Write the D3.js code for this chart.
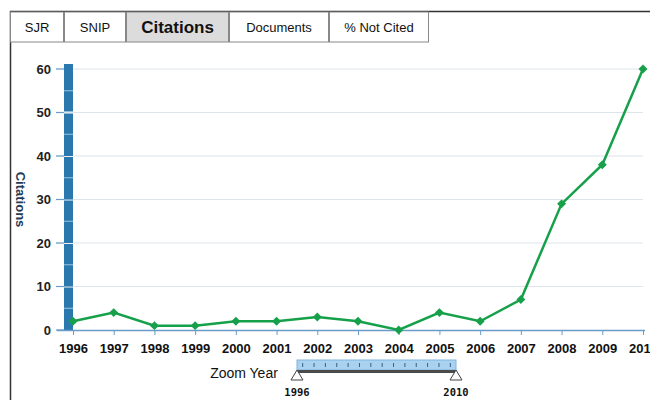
<!DOCTYPE html>
<html><head><meta charset="utf-8">
<script src="https://cdn.jsdelivr.net/npm/d3@7"></script>
<style>body{margin:0;background:#fff}svg{display:block;font-family:"Liberation Sans",Arial,sans-serif}</style>
</head><body><svg id="c" width="650" height="400"></svg>
<script>
const years = [1996,1997,1998,1999,2000,2001,2002,2003,2004,2005,2006,2007,2008,2009,2010];
const citations = [2,4,1,1,2,2,3,2,0,4,2,7,29,38,60];
const yTicks = [0,10,20,30,40,50,60];
const tabs = ["SJR","SNIP","Citations","Documents","% Not Cited"];
const activeTab = "Citations";
const zoomRange = [1996,2010];

const svg = d3.select("#c");
// frame
svg.append("line").attr("x1",10).attr("x2",650).attr("y1",11.5).attr("y2",11.5).attr("stroke","#333").attr("stroke-width",1.5);
svg.append("line").attr("x1",10.5).attr("x2",10.5).attr("y1",11).attr("y2",400).attr("stroke","#333").attr("stroke-width",1.5);

// tabs
const tabEdges = [10,64,126,229,329,429];
const tabX = d3.scaleOrdinal().domain(tabs).range(tabs.map((d,i)=>tabEdges[i]));
const tabW = d3.scaleOrdinal().domain(tabs).range(tabs.map((d,i)=>tabEdges[i+1]-tabEdges[i]));
const tg = svg.append("g").selectAll("g").data(tabs).join("g").attr("transform",d=>`translate(${tabX(d)},12)`);
tg.append("rect").attr("x",0.5).attr("y",0).attr("width",d=>tabW(d)-1).attr("height",30)
  .attr("fill",d=>d===activeTab?"#dcdcdc":"#fff").attr("stroke","#888").attr("stroke-width",1);
tg.append("text").attr("x",d=>tabW(d)/2).attr("y",d=>d===activeTab?21:19.5).attr("text-anchor","middle")
  .attr("font-size",d=>d===activeTab?17:13).attr("font-weight",d=>d===activeTab?"bold":"normal").attr("fill","#111").text(d=>d);

// scales
const x = d3.scalePoint().domain(years).range([73,643]);
const y = d3.scaleLinear().domain([0,60]).range([330,69]);

// gridlines
svg.append("g").selectAll("line").data(yTicks.filter(d=>d>0)).join("line")
  .attr("x1",57).attr("x2",643).attr("y1",d=>y(d)).attr("y2",d=>y(d)).attr("stroke","#dde4ea").attr("stroke-width",1);

// y axis
const ya = svg.append("g").attr("transform","translate(57,0)").call(d3.axisLeft(y).tickValues(yTicks).tickSize(0).tickPadding(6));
ya.select(".domain").remove();
ya.selectAll("text").attr("font-size",13).attr("font-weight","bold").attr("fill","#222").attr("font-family","Liberation Sans, Arial, sans-serif");
svg.append("g").selectAll("line").data(yTicks).join("line")
  .attr("x1",56).attr("x2",64).attr("y1",d=>y(d)).attr("y2",d=>y(d)).attr("stroke","#6a9cc8").attr("stroke-width",1.2);

// y zoom bar (segmented)
const segs = d3.pairs(yTicks);
svg.append("g").selectAll("rect").data(segs).join("rect")
  .attr("x",64).attr("width",9).attr("y",d=>y(d[1])+(d[1]===60?-5:1)).attr("height",d=>y(d[0])-y(d[1])-1+(d[1]===60?5:0))
  .attr("fill","#2a78ae");
svg.append("g").selectAll("line").data(segs.map(d=>(d[0]+d[1])/2)).join("line")
  .attr("x1",64).attr("x2",73).attr("y1",d=>y(d)).attr("y2",d=>y(d)).attr("stroke","#9cc3e0").attr("stroke-width",1);

// x axis
svg.append("line").attr("x1",57).attr("x2",645).attr("y1",330.5).attr("y2",330.5).attr("stroke","#6a9cc8").attr("stroke-width",1.5);
const xa = svg.append("g").attr("transform","translate(0,330)").call(d3.axisBottom(x).tickSize(5).tickPadding(9));
xa.select(".domain").remove();
xa.selectAll("line").attr("stroke","#6a9cc8");
xa.selectAll("text").attr("font-size",13).attr("font-weight","bold").attr("fill","#111").attr("font-family","Liberation Sans, Arial, sans-serif");

// y label
svg.append("text").attr("transform",`translate(16,${y(30)}) rotate(90)`).attr("text-anchor","middle")
  .attr("font-size",13).attr("font-weight","bold").attr("fill","#1f3b57").text("Citations");

// line
const data = years.map((d,i)=>({year:d,v:citations[i]}));
svg.append("path").datum(data).attr("fill","none").attr("stroke","#16a04a").attr("stroke-width",2.5)
  .attr("d",d3.line().x(d=>x(d.year)).y(d=>y(d.v)));
svg.append("g").selectAll("path").data(data).join("path")
  .attr("transform",d=>`translate(${x(d.year)},${y(d.v)}) rotate(45)`)
  .attr("d",d3.symbol(d3.symbolSquare,40)).attr("fill","#16a04a");

// zoom slider
const zs = d3.scaleLinear().domain(zoomRange).range([297,456]);
const zg = svg.append("g");
zg.append("rect").attr("x",zs(1996)).attr("y",360).attr("width",zs(2010)-zs(1996)).attr("height",10).attr("fill","#a9d2f0").attr("stroke","#7fb3dc");
zg.append("g").selectAll("line").data(d3.range(1996.5,2010,1)).join("line")
  .attr("x1",d=>zs(d)).attr("x2",d=>zs(d)).attr("y1",363).attr("y2",367).attr("stroke","#3b5f80").attr("stroke-width",1);
zg.append("rect").attr("x",zs(1996)).attr("y",370).attr("width",zs(2010)-zs(1996)).attr("height",3).attr("fill","#4a4a4a");
zg.selectAll("path").data(zoomRange).join("path")
  .attr("d",d=>`M${zs(d)},370 L${zs(d)-6},380 L${zs(d)+6},380 Z`).attr("fill","#fff").attr("stroke","#444").attr("stroke-width",1);
zg.append("text").attr("x",244).attr("y",378).attr("text-anchor","middle").attr("font-size",14).attr("fill","#111").text("Zoom Year");
zg.selectAll("text.zl").data(zoomRange).join("text").attr("class","zl").attr("x",d=>zs(d)).attr("y",396)
  .attr("text-anchor","middle").attr("font-size",10.5).attr("font-weight","bold").attr("font-family","DejaVu Sans Mono, monospace").attr("fill","#111").text(d=>d);
</script></body></html>
